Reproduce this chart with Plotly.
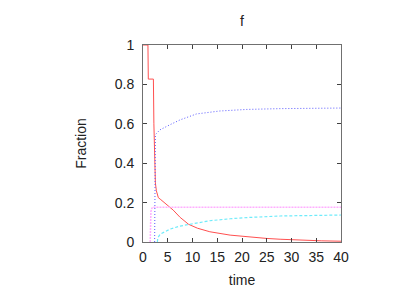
import plotly.graph_objects as go

# Data
red_t = [0, 1.0, 1.07, 2.1, 2.2, 2.35, 2.5, 2.7, 3.1, 3.6, 4.5, 5.5, 6.1, 7.5, 9.2, 11, 13.5, 17.6, 21, 25, 27.7, 32, 36, 40]
red_y = [1, 1, 0.827, 0.827, 0.6, 0.38, 0.3, 0.26, 0.225, 0.215, 0.195, 0.175, 0.162, 0.125, 0.09, 0.07, 0.052, 0.035, 0.026, 0.018, 0.014, 0.009, 0.006, 0.004]

blue_t = [2.35, 2.35, 2.5, 3.4, 4.5, 5.5, 7.5, 10.8, 15.5, 21, 27.7, 34, 40]
blue_y = [0, 0.53, 0.545, 0.569, 0.585, 0.596, 0.62, 0.65, 0.665, 0.673, 0.677, 0.679, 0.68]

magenta_t = [1.45, 1.5, 1.6, 1.8, 2.0, 40]
magenta_y = [0, 0.1, 0.155, 0.172, 0.177, 0.177]

cyan_t = [2.9, 3.0, 3.5, 4.5, 5.5, 7.5, 9.2, 11, 13.5, 17.6, 21, 27.7, 34, 40]
cyan_y = [0, 0.022, 0.04, 0.055, 0.066, 0.081, 0.088, 0.098, 0.108, 0.118, 0.124, 0.132, 0.135, 0.137]

x_ticks = [0, 5, 10, 15, 20, 25, 30, 35, 40]
y_ticks = [0, 0.2, 0.4, 0.6, 0.8, 1]
y_tick_text = ["0", "0.2", "0.4", "0.6", "0.8", "1"]

FONT = "Liberation Sans, Arial, sans-serif"

fig = go.Figure()
fig.add_trace(go.Scatter(x=red_t, y=red_y, mode="lines",
                         line=dict(color="rgb(255,80,80)", width=1)))
fig.add_trace(go.Scatter(x=blue_t, y=blue_y, mode="lines",
                         line=dict(color="rgb(90,90,255)", width=1, dash="1px,2px")))
fig.add_trace(go.Scatter(x=magenta_t, y=magenta_y, mode="lines",
                         line=dict(color="rgb(255,175,255)", width=1.5, dash="2px,1px")))
fig.add_trace(go.Scatter(x=cyan_t, y=cyan_y, mode="lines",
                         line=dict(color="rgb(110,235,250)", width=1.2, dash="3px,2px")))

axis_common = dict(showgrid=False, zeroline=False, showline=True, linecolor="#707070",
                   linewidth=1, mirror="ticks", ticks="inside", ticklen=4, automargin=False,
                   tickcolor="#404040", tickfont=dict(family=FONT, size=14, color="#222"))

fig.update_xaxes(range=[0, 40], tickvals=x_ticks, ticktext=[str(v) for v in x_ticks],
                 ticklabelstandoff=2,
                 title=dict(text="time", font=dict(family=FONT, size=14, color="#222"), standoff=11),
                 **axis_common)
fig.update_yaxes(range=[0, 1], tickvals=y_ticks, ticktext=y_tick_text,
                 ticklabelstandoff=5,
                 title=dict(text="Fraction", font=dict(family=FONT, size=14, color="#222"), standoff=24),
                 **axis_common)

# The page body adds an 8px offset; margins compensate so the plot area
# lands where the reference has it.
fig.update_layout(
    width=415, height=291,
    margin=dict(l=135, r=82, t=37, b=57, pad=0),
    plot_bgcolor="white", paper_bgcolor="white",
    showlegend=False,
    annotations=[dict(text="f", x=0.5, y=1.122, xref="paper", yref="paper",
                      showarrow=False, yanchor="middle",
                      font=dict(family=FONT, size=14, color="#222"))],
)

fig.write_html("out.html")
